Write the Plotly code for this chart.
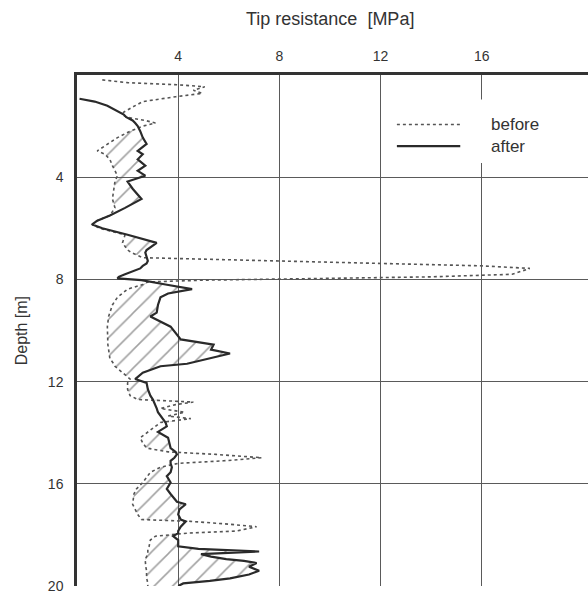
import numpy as np
import plotly.graph_objects as go

# depth [m] (common sampling for both soundings)
depth = [0.19, 0.30, 0.38, 0.46, 0.60, 0.72, 0.85, 0.93, 1.04, 1.20, 1.35, 1.45, 1.55, 1.65, 1.78, 1.88,
         2.0, 2.2, 2.45, 2.7, 2.97, 3.1, 3.3, 3.55, 3.75, 3.94, 4.17, 4.45, 4.85, 5.2, 5.5, 5.7, 5.85,
         6.0, 6.25, 6.57, 6.85, 6.95, 7.15, 7.28, 7.38, 7.47, 7.57, 7.7, 7.8, 7.9, 7.96, 8.03, 8.1,
         8.2, 8.38, 8.55, 8.7, 9.0, 9.3, 9.45, 9.85, 10.2, 10.35, 10.55, 10.75, 10.9, 11.1, 11.3, 11.4,
         11.65, 11.9, 12.05, 12.3, 12.55, 12.7, 12.8, 12.9, 13.05, 13.2, 13.35, 13.45, 13.6, 13.75,
         13.97, 14.2, 14.4, 14.6, 14.75, 14.85, 14.98, 15.1, 15.2, 15.35, 15.55, 15.7, 15.95, 16.1,
         16.2, 16.4, 16.7, 16.8, 17.0, 17.2, 17.4, 17.47, 17.58, 17.68, 17.85, 17.93, 18.05, 18.2,
         18.45, 18.55, 18.65, 18.75, 18.85, 18.95, 19.02, 19.1, 19.25, 19.4, 19.55, 19.7, 19.8, 19.9, 20.0]

# tip resistance before compaction [MPa]
before = [1.0, 2.0, 3.95, 5.05, 4.6, 4.95, 3.9, 3.3, 2.6, 2.3, 2.0, 1.85, 1.8, 1.95, 2.7, 3.1,
          2.6, 2.1, 1.6, 1.2, 0.8, 1.1, 1.3, 1.4, 1.5, 1.6, 1.5, 1.45, 1.4, 1.5, 1.3, 0.8, 0.6,
          0.9, 1.9, 1.8, 2.0, 2.15, 2.6, 8.0, 12.0, 16.0, 17.9, 17.5, 17.2, 14.0, 9.0, 5.0, 2.8,
          2.6, 2.0, 1.8, 1.6, 1.4, 1.3, 1.25, 1.2, 1.2, 1.2, 1.22, 1.25, 1.28, 1.3, 1.45, 1.5,
          1.8, 2.1, 2.0, 2.0, 2.1, 2.4, 4.6, 3.9, 3.3, 4.25, 3.6, 4.5, 3.3, 3.1,
          2.8, 2.5, 2.6, 2.75, 3.6, 5.5, 7.3, 5.8, 4.0, 3.3, 2.9, 2.8, 2.6, 2.45,
          2.35, 2.25, 2.2, 2.2, 2.3, 2.4, 2.55, 4.5, 6.0, 7.1, 6.3, 4.4, 3.1, 2.9,
          2.85, 2.8, 2.8, 2.8, 2.75, 2.7, 2.7, 2.7, 2.72, 2.75, 2.75, 2.75, 2.78, 2.8, 2.8]

# tip resistance after compaction [MPa]
after = [None, None, None, None, None, None, None, 0.1, 0.7, 1.2, 1.5, 1.7, 1.85, 1.95, 2.2, 2.3,
         2.4, 2.5, 2.6, 2.75, 2.4, 2.6, 2.4, 2.7, 2.4, 2.7, 2.0, 2.2, 2.55, 1.9, 1.3, 0.8, 0.6,
         1.0, 2.0, 3.15, 2.75, 2.7, 2.75, 2.8, 2.75, 2.6, 2.5, 2.2, 1.9, 1.65, 1.6, 2.55, 3.0,
         3.5, 4.55, 3.6, 3.3, 3.2, 3.15, 2.9, 3.7, 4.0, 4.1, 5.4, 5.3, 6.05, 5.15, 4.35, 3.3,
         2.6, 2.3, 2.75, 2.8, 2.9, 3.0, 3.05, 3.1, 3.15, 3.2, 3.3, 3.4, 3.5, 3.55,
         3.2, 3.6, 3.65, 3.7, 3.9, 3.95, 3.85, 3.7, 3.7, 3.75, 3.7, 3.55, 3.7, 3.6,
         3.55, 3.7, 3.95, 4.3, 4.05, 4.0, 4.1, 4.3, 4.2, 4.1, 4.0, 4.0, 3.8, 4.0,
         4.0, 4.8, 7.2, 4.9, 5.3, 5.9, 6.6, 7.1, 6.8, 7.2, 6.8, 6.05, 5.25, 4.2, 4.0]

x_ticks = [4, 8, 12, 16]
y_ticks = [4, 8, 12, 16, 20]

FONT = "Liberation Sans, Arial, sans-serif"

b_arr = np.array(before, dtype=float)
a_arr = np.array([np.nan if v is None else v for v in after], dtype=float)
gain = np.fmax(a_arr, b_arr)  # hatched where resistance increased

fig = go.Figure()
fig.add_trace(go.Scatter(x=before, y=depth, mode="lines", line=dict(width=0),
                         showlegend=False, hoverinfo="skip"))
fig.add_trace(go.Scatter(x=gain, y=depth, mode="lines", line=dict(width=0),
                         fill="tonextx", fillcolor="rgba(0,0,0,0)",
                         fillpattern=dict(shape="/", fgcolor="#444444", bgcolor="rgba(0,0,0,0)",
                                          size=13, solidity=0.12),
                         showlegend=False, hoverinfo="skip"))
fig.add_trace(go.Scatter(x=before, y=depth, mode="lines", name="before",
                         line=dict(color="#555555", width=1.6, dash="dot"), showlegend=False))
fig.add_trace(go.Scatter(x=after, y=depth, mode="lines", name="after",
                         line=dict(color="#2a2a2a", width=2.2), showlegend=False))

# legend drawn manually (paper coordinates)
shapes = [
    dict(type="rect", xref="paper", yref="paper", x0=0.609, x1=0.95, y0=0.828, y1=0.952,
         fillcolor="white", line=dict(width=0), layer="above"),
    dict(type="line", xref="paper", yref="paper", x0=0.626, x1=0.750, y0=0.903, y1=0.903,
         line=dict(color="#555555", width=1.6, dash="dot"), layer="above"),
    dict(type="line", xref="paper", yref="paper", x0=0.626, x1=0.750, y0=0.861, y1=0.861,
         line=dict(color="#2a2a2a", width=2.2), layer="above"),
]
annotations = [
    dict(text="before", xref="paper", yref="paper", x=0.806, y=0.903, xanchor="left",
         yanchor="middle", showarrow=False, font=dict(family=FONT, size=17, color="#333333")),
    dict(text="after", xref="paper", yref="paper", x=0.806, y=0.861, xanchor="left",
         yanchor="middle", showarrow=False, font=dict(family=FONT, size=17, color="#333333")),
    dict(text="Tip resistance  [MPa]", xref="paper", yref="paper", x=0.495, y=1.11,
         xanchor="center", yanchor="middle", showarrow=False,
         font=dict(family=FONT, size=18, color="#333333")),
    dict(text="Depth [m]", xref="paper", yref="paper", x=-0.108, y=0.50, textangle=-90,
         xanchor="center", yanchor="middle", showarrow=False,
         font=dict(family=FONT, size=16, color="#333333")),
]

fig.update_layout(
    width=588, height=596,
    margin=dict(l=77, r=0, t=75, b=10),
    paper_bgcolor="white", plot_bgcolor="white",
    shapes=shapes, annotations=annotations,
    font=dict(family=FONT, size=14, color="#333333"),
    xaxis=dict(range=[0, 20.2], side="top", tickvals=x_ticks, ticktext=[str(v) for v in x_ticks],
               showgrid=True, gridcolor="#5a5a5a", gridwidth=1.3, zeroline=False,
               showline=True, linecolor="#333333", linewidth=2.5, ticks="",
               ticklabelstandoff=6, ticklabeloverflow="allow", automargin=False),
    yaxis=dict(range=[20, 0], tickvals=y_ticks, ticktext=[str(v) for v in y_ticks],
               showgrid=True, gridcolor="#5a5a5a", gridwidth=1.3, zeroline=False,
               showline=True, linecolor="#333333", linewidth=2.5, ticks="",
               ticklabelstandoff=8, ticklabeloverflow="allow", automargin=False),
)

fig.write_html("out.html")
